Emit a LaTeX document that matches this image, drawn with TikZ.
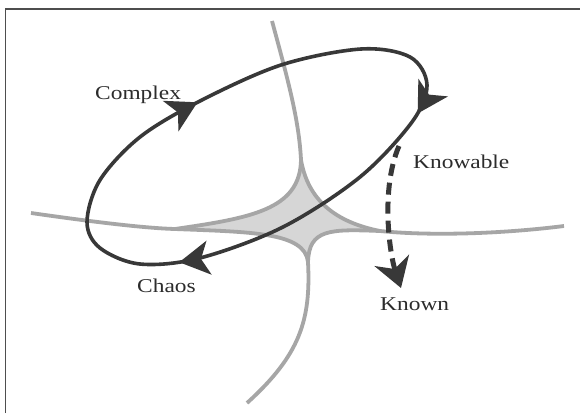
\documentclass[tikz,border=0pt]{standalone}
\usepackage{fontspec}
\setmainfont{Liberation Serif}[FakeStretch=1.2]
\usetikzlibrary{arrows.meta,decorations.markings}
\definecolor{loopgray}{HTML}{383838}
\definecolor{strandgray}{HTML}{A6A6A6}
\definecolor{coregray}{HTML}{D6D6D6}
\definecolor{labelgray}{HTML}{2C2C2C}
\definecolor{framegray}{HTML}{4E4E4E}
\tikzset{
  bigtip/.tip={Stealth[length=30pt, width=34pt, inset=8pt]},
  strand/.style={draw=strandgray, line width=3.8pt},
  cycleline/.style={draw=loopgray, line width=3.6pt},
  domainlabel/.style={text=labelgray, font=\fontsize{19.5}{22}\selectfont, inner sep=0pt, anchor=base west},
  shiftline/.style={draw=loopgray, line width=5pt, dash pattern=on 12pt off 7pt,
    -{Stealth[length=29pt, width=36pt, inset=9pt]}},
}
\begin{document}
\begin{tikzpicture}[x=1pt,y=-1pt]
\useasboundingbox (0,0) rectangle (580,413);
\fill[white] (0,0) rectangle (580,413);
\draw[framegray, line width=1.8pt] (5.5,413) -- (5.5,8.8) -- (580,8.8);

% cusps of the central region
\coordinate (T) at (301,160);
\coordinate (L) at (175,229);
\coordinate (R) at (380,231);
\coordinate (B) at (308,262);
% free ends of the four boundaries
\coordinate (topend) at (272,21);
\coordinate (leftend) at (31,213);
\coordinate (rightend) at (564,226);
\coordinate (bottomend) at (247,403);

% shaded core
\fill[coregray] (T) .. controls (300,210) and (250,218) .. (L)
  .. controls (250,232) and (305,232) .. (B)
  .. controls (309,229) and (330,229) .. (R)
  .. controls (335,222) and (308,200) .. (T) -- cycle;

% edges of the core
\draw[strand] (T) .. controls (300,210) and (250,218) .. (L);
\draw[strand] (L) .. controls (250,232) and (305,232) .. (B);
\draw[strand] (R) .. controls (330,229) and (309,229) .. (B);
\draw[strand] (T) .. controls (308,200) and (335,222) .. (R);

% boundaries running out of the core
\draw[strand] (topend) .. controls (288,80) and (299,120) .. (T);
\draw[strand] (leftend) .. controls (80,220) and (140,228) .. (L);
\draw[strand] (R) .. controls (430,236) and (500,234) .. (rightend);
\draw[strand] (B) .. controls (311,320) and (300,355) .. (bottomend);

% the clockwise cycle through the domains
\draw[cycleline, postaction={decorate, decoration={markings,
    mark=at position 0.075 with {\arrow[loopgray]{bigtip}},
    mark=at position 0.41 with {\arrow[loopgray]{bigtip}},
    mark=at position 0.74 with {\arrow[loopgray]{bigtip}}}}]
  plot[smooth cycle, tension=0.55] coordinates {
    (361,49) (410,57) (427,85) (412,122) (360,177) (283,227) (200,258)
    (140,264) (100,248) (87,222) (100,180) (140,137) (200,101) (281,65)};

% shift from knowable to known
\coordinate (shiftstart) at (399,146);
\coordinate (shiftend) at (401,288);
\draw[shiftline] (shiftstart) .. controls (380,190) and (390,255) .. (shiftend);

% domain labels
\node[domainlabel] (complex) at (95,99.5) {Complex};
\node[domainlabel] (knowable) at (413,168.5) {Knowable};
\node[domainlabel] (chaos) at (137,292) {Chaos};
\node[domainlabel] (known) at (380,310) {Known};
\end{tikzpicture}
\end{document}
